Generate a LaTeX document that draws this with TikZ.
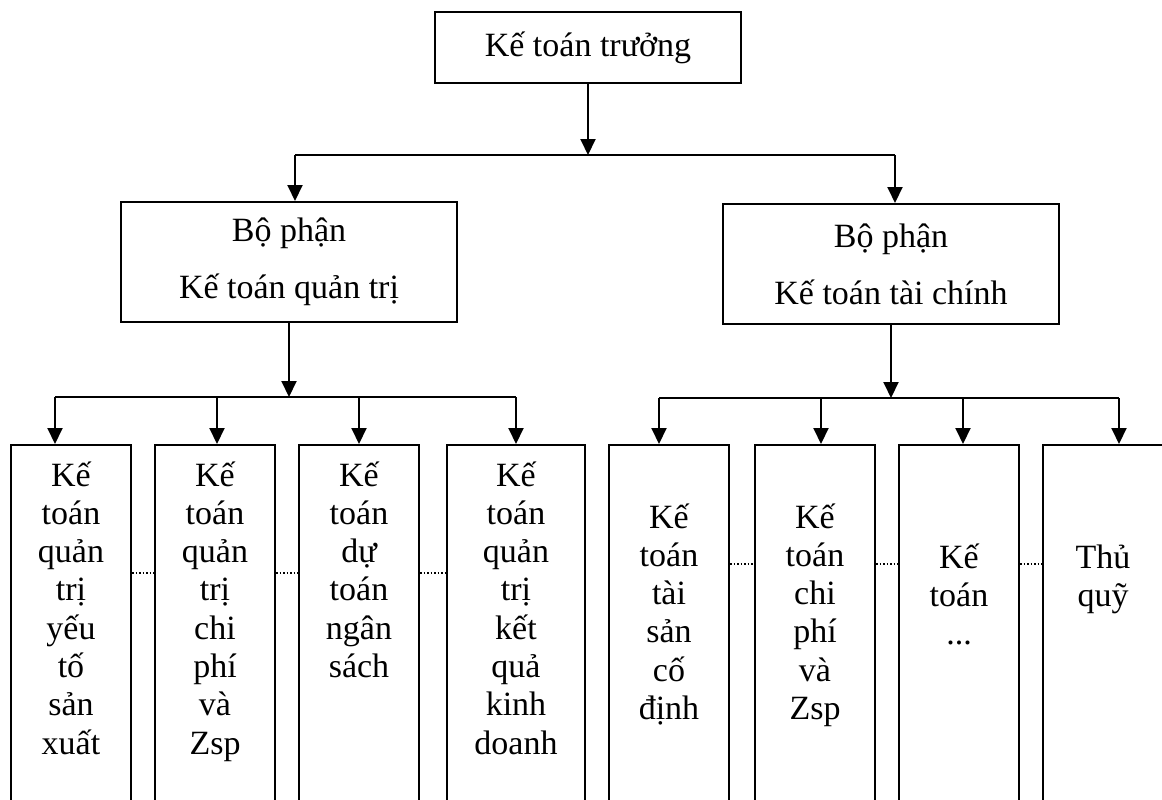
\documentclass[tikz,border=0pt]{standalone}
\usepackage{fontspec}
\setmainfont{Liberation Serif}
\usetikzlibrary{arrows.meta, positioning}

\begin{document}
\begin{tikzpicture}[
    x=1pt, y=-1pt,
    box/.style={rectangle, draw, line width=2pt, align=center, inner sep=0pt,
        font=\fontsize{34pt}{38.3pt}\selectfont},
    midbox/.style={box, minimum width=336pt, minimum height=120pt,
        font=\fontsize{34pt}{57pt}\selectfont},
    leaf/.style={box, anchor=north, text width=120pt, text depth=400pt},
    arrow/.style={-{Triangle[length=16pt, width=15pt]}, line width=2pt},
    bus/.style={line width=2pt},
    dots/.style={line width=1.4pt, dash pattern=on 1.5pt off 2pt}
]
\useasboundingbox (0,0) rectangle (1162,800);
\clip (0,0) rectangle (1162,800);

\node (kt) [box, minimum width=306pt, minimum height=71pt] at (588,47.5) {Kế toán trưởng};
\node (qt) [midbox] at (289,262) {Bộ phận\\Kế toán quản trị};
\node (tc) [midbox] at (891,264) {Bộ phận\\Kế toán tài chính};

\node (l1) [leaf, text height=41pt] at (71,444) {Kế\\toán\\quản\\trị\\yếu\\tố\\sản\\xuất};
\node (l2) [leaf, text height=41pt] at (215,444) {Kế\\toán\\quản\\trị\\chi\\phí\\và\\Zsp};
\node (l3) [leaf, text height=41pt] at (359,444) {Kế\\toán\\dự\\toán\\ngân\\sách};
\node (l4) [leaf, text height=41pt, text width=138pt] at (516,444) {Kế\\toán\\quản\\trị\\kết\\quả\\kinh\\doanh};
\node (r1) [leaf, text height=83pt] at (669,444) {Kế\\toán\\tài\\sản\\cố\\định};
\node (r2) [leaf, text height=83pt] at (815,444) {Kế\\toán\\chi\\phí\\và\\Zsp};
\node (r3) [leaf, text height=123pt] at (959,444) {Kế\\toán\\...};
\node (r4) [leaf, text height=123pt] at (1103,444) {Thủ\\quỹ};

\coordinate (b0) at (295,155);
\coordinate (b1) at (895,155);
\coordinate (p1) at (55,397);
\coordinate (p2) at (217,397);
\coordinate (p3) at (359,397);
\coordinate (p4) at (516,397);
\coordinate (s1) at (659,398);
\coordinate (s2) at (821,398);
\coordinate (s3) at (963,398);
\coordinate (s4) at (1119,398);
\coordinate (dl) at (0,573);
\coordinate (dr) at (0,564);

\draw [arrow] (kt.south) -- (kt.south |- b0);
\draw [bus] (b0) -- (b1);
\draw [arrow] (b0) -- (b0 |- qt.north);
\draw [arrow] (b1) -- (b1 |- tc.north);

\draw [arrow] (qt.south) -- (qt.south |- p1);
\draw [bus] (p1) -- (p4);
\foreach \i in {1,...,4}
    \draw [arrow] (p\i) -- (p\i |- l\i.north);

\draw [arrow] (tc.south) -- (tc.south |- s1);
\draw [bus] (s1) -- (s4);
\foreach \i in {1,...,4}
    \draw [arrow] (s\i) -- (s\i |- r\i.north);

\foreach \a/\b in {l1/l2, l2/l3, l3/l4}
    \draw [dots] (\a.east |- dl) -- (\b.west |- dl);
\foreach \a/\b in {r1/r2, r2/r3, r3/r4}
    \draw [dots] (\a.east |- dr) -- (\b.west |- dr);

\end{tikzpicture}
\end{document}
